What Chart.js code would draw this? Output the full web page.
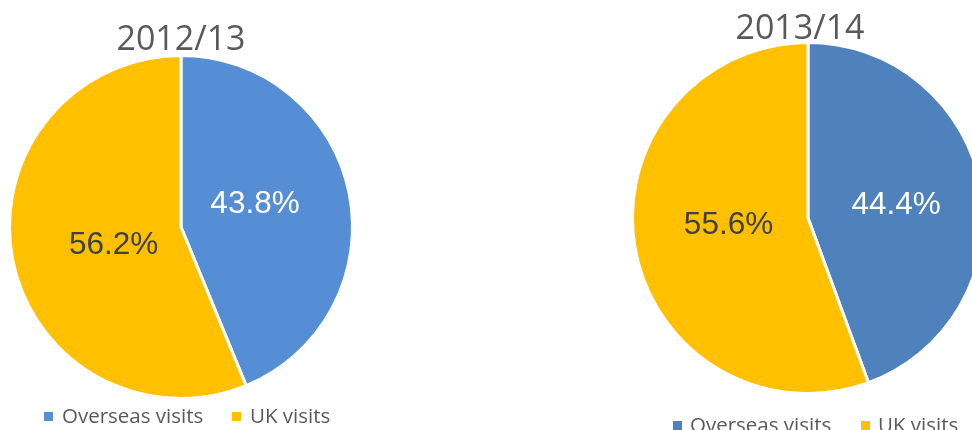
<!DOCTYPE html>
<html>
<head>
<meta charset="utf-8">
<script src="https://cdn.jsdelivr.net/npm/chart.js@4.4.1/dist/chart.umd.min.js"></script>
<style>
  html, body { margin: 0; padding: 0; background: #fff; overflow: hidden; width: 972px; height: 430px; }
  canvas { position: absolute; top: 0; }
  #pie1 { left: 0; }
  #pie2 { left: 620px; }
</style>
</head>
<body>
<canvas id="pie1" width="362" height="430"></canvas>
<canvas id="pie2" width="376" height="440"></canvas>
<script>
// data
var categories = ["Overseas visits", "UK visits"];
var values1213 = [43.8, 56.2];
var values1314 = [44.4, 55.6];
var titles = ["2012/13", "2013/14"];

var yellow = '#FFC000';

// draws the % labels, the title and the legend on top of each pie
var pieDeco = {
  id: 'pieDeco',
  afterDatasetsDraw: function (chart, args, opts) {
    var ctx = chart.ctx;
    var meta = chart.getDatasetMeta(0);
    var vals = chart.data.datasets[0].data;
    var total = vals.reduce(function (a, b) { return a + b; }, 0);
    ctx.save();
    ctx.font = '31.5px "Liberation Sans", Arial, sans-serif';
    ctx.textAlign = 'center';
    ctx.textBaseline = 'middle';
    meta.data.forEach(function (arc, i) {
      var mid = (arc.startAngle + arc.endAngle) / 2;
      var r = arc.outerRadius * opts.labelRadius[i];
      ctx.fillStyle = opts.labelColors[i];
      ctx.fillText((vals[i] / total * 100).toFixed(1) + '%',
        arc.x + Math.cos(mid) * r, arc.y + Math.sin(mid) * r + opts.labelShift[i]);
    });
    ctx.restore();
  },
  afterDraw: function (chart, args, opts) {
    var ctx = chart.ctx;
    var colors = chart.data.datasets[0].backgroundColor;
    ctx.save();
    // title
    ctx.fillStyle = '#595959';
    ctx.font = '34px "Open Sans", sans-serif';
    ctx.textAlign = 'center';
    ctx.textBaseline = 'alphabetic';
    ctx.fillText(opts.title, opts.titleX, opts.titleY);
    // legend
    ctx.font = '20.5px "Open Sans", sans-serif';
    ctx.textAlign = 'left';
    chart.data.labels.forEach(function (lab, i) {
      var item = opts.legend[i];
      ctx.fillStyle = colors[i];
      ctx.fillRect(item.box, opts.legendY - 11, 9, 9);
      ctx.fillStyle = '#595959';
      ctx.fillText(lab, item.text, opts.legendY);
    });
    ctx.restore();
  }
};

var ctx1 = document.getElementById("pie1").getContext("2d");
new Chart(ctx1, {
  type: 'pie',
  data: {
    labels: categories,
    datasets: [{
      data: values1213,
      backgroundColor: ['#558ED5', yellow],
      borderColor: '#ffffff',
      borderWidth: 3,
    }]
  },
  options: {
    responsive: false,
    animation: false,
    layout: { padding: { left: 8, right: 8, top: 54, bottom: 30 } },
    plugins: {
      legend: { display: false },
      tooltip: { enabled: false },
      pieDeco: {
        title: titles[0],
        titleX: 181,
        titleY: 50,
        labelRadius: [0.44, 0.40],
        labelShift: [-8, 5],
        labelColors: ['#ffffff', '#404040'],
        legendY: 423,
        legend: [{ box: 44, text: 62 }, { box: 232, text: 250 }]
      }
    }
  },
  plugins: [pieDeco]
});

var ctx2 = document.getElementById("pie2").getContext("2d");
new Chart(ctx2, {
  type: 'pie',
  data: {
    labels: categories,
    datasets: [{
      data: values1314,
      backgroundColor: ['#4F81BD', yellow],
      borderColor: '#ffffff',
      borderWidth: 3,
    }]
  },
  options: {
    responsive: false,
    animation: false,
    layout: { padding: { left: 11, right: 11, top: 41, bottom: 45 } },
    plugins: {
      legend: { display: false },
      tooltip: { enabled: false },
      pieDeco: {
        title: titles[1],
        titleX: 180,
        titleY: 39,
        labelRadius: [0.51, 0.46],
        labelShift: [3, -7],
        labelColors: ['#ffffff', '#404040'],
        legendY: 432,
        legend: [{ box: 53, text: 70 }, { box: 241, text: 258 }]
      }
    }
  },
  plugins: [pieDeco]
});
</script>
</body>
</html>
